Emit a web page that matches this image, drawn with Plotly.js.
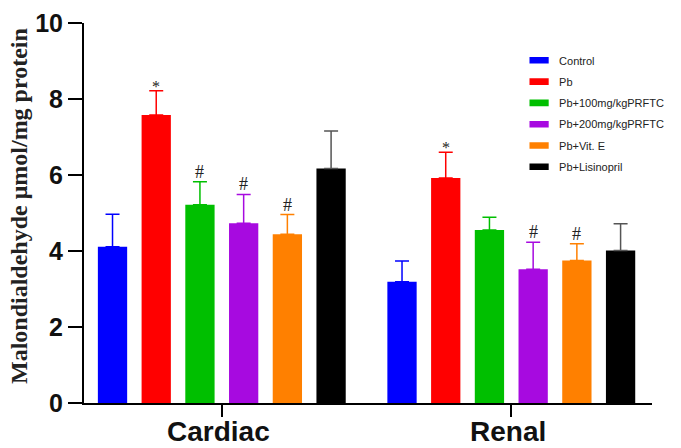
<!DOCTYPE html>
<html>
<head>
<meta charset="utf-8">
<script src="https://cdn.plot.ly/plotly-3.0.1.min.js"></script>
<style>html,body{margin:0;padding:0;background:#fff;}#chart{width:681px;height:448px;}</style>
</head>
<body>
<div id="chart"></div>
<script>
// ---- data ----
const categories = ['Cardiac', 'Renal'];
const groups = ['Control', 'Pb', 'Pb+100mg/kgPRFTC', 'Pb+200mg/kgPRFTC', 'Pb+Vit. E', 'Pb+Lisinopril'];
const cardiacMean = [4.11, 7.58, 5.22, 4.73, 4.44, 6.17];
const cardiacErr  = [0.86, 0.64, 0.60, 0.76, 0.52, 0.99];
const renalMean   = [3.19, 5.92, 4.55, 3.52, 3.75, 4.01];
const renalErr    = [0.55, 0.68, 0.34, 0.71, 0.44, 0.71];
const cardiacMarks = ['', '*', '#', '#', '#', ''];
const renalMarks   = ['', '*', '', '#', '#', ''];
const yTickVals = [0, 2, 4, 6, 8, 10];
const yTitle = 'Malondialdehyde μmol/mg protein';

// ---- styles ----
const colors = ['#0000ff', '#ff0000', '#00bf00', '#a70ae0', '#ff8000', '#000000'];
const errColors = ['#0000ff', '#ff0000', '#00bf00', '#a70ae0', '#ff8000', '#555555'];
const bargap = 0.094;
const nGroups = groups.length;
const slot = (1 - bargap) / nGroups;

const traces = groups.map((g, i) => ({
  type: 'bar',
  name: g,
  legendgroup: 'g' + i,
  x: categories,
  y: [cardiacMean[i], renalMean[i]],
  marker: {color: colors[i], line: {width: 0}},
  error_y: {
    type: 'data', symmetric: false,
    array: [cardiacErr[i], renalErr[i]],
    arrayminus: [0, 0],
    color: errColors[i], thickness: 1.5, width: 7
  },
  hoverinfo: 'skip'
}));

const annotations = [];
[cardiacMarks, renalMarks].forEach((marks, c) => {
  const means = c === 0 ? cardiacMean : renalMean;
  const errs = c === 0 ? cardiacErr : renalErr;
  marks.forEach((m, i) => {
    if (!m) return;
    annotations.push({
      x: c + (i - (nGroups - 1) / 2) * slot,
      y: means[i] + errs[i],
      xref: 'x', yref: 'y',
      text: m, showarrow: false,
      yanchor: 'bottom',
      yshift: m === '*' ? -6 : -2,
      font: {family: 'Liberation Serif, Times New Roman, serif', size: m === '*' ? 16 : 18, color: '#222'}
    });
  });
});

// category labels under the x axis
categories.forEach((c, k) => {
  annotations.push({
    x: k, y: 0, xref: 'x', yref: 'paper',
    text: c, showarrow: false,
    xanchor: 'center', yanchor: 'top', yshift: -11, xshift: -3,
    font: {family: 'Liberation Sans, Arial, sans-serif', size: 28, weight: 'bold', color: '#111'}
  });
});

// y-axis title
annotations.push({
  x: 0, y: 0.5, xref: 'paper', yref: 'paper',
  text: yTitle, showarrow: false, textangle: -90,
  xanchor: 'center', yanchor: 'middle', xshift: -65, yshift: 7,
  font: {family: 'Liberation Serif, Times New Roman, serif', size: 24, weight: 'bold', color: '#222'}
});

const layout = {
  width: 681, height: 448,
  margin: {l: 84, r: 25, t: 23, b: 45, pad: 0},
  paper_bgcolor: '#fff', plot_bgcolor: '#fff',
  barmode: 'group', bargap: bargap, bargroupgap: 0.33,
  showlegend: true,
  legend: {
    x: 0.766, y: 0.94, xanchor: 'left', yanchor: 'top',
    bgcolor: 'rgba(0,0,0,0)', tracegroupgap: 2.3, itemwidth: 30,
    font: {family: 'Liberation Sans, Arial, sans-serif', size: 11, color: '#222'}
  },
  xaxis: {
    type: 'category', range: [-0.476, 1.486],
    showline: true, linecolor: '#000', linewidth: 2,
    ticks: 'outside', ticklen: 12, tickwidth: 2, tickcolor: '#000',
    showgrid: false, zeroline: false, showticklabels: false
  },
  yaxis: {
    range: [0, 10], tickvals: yTickVals, ticktext: yTickVals.map(String),
    showline: true, linecolor: '#000', linewidth: 2,
    ticks: 'outside', ticklen: 14, tickwidth: 2, tickcolor: '#000',
    showgrid: false, zeroline: false,
    tickfont: {family: 'Liberation Sans, Arial, sans-serif', size: 25, weight: 'bold', color: '#111'}
  },
  annotations: annotations
};

Plotly.newPlot('chart', traces, layout, {displayModeBar: false, staticPlot: true}).then(gd => {
  // reference legend swatches are wide flat rectangles
  gd.querySelectorAll('.legend .legendpoints path').forEach(p => {
    const t = p.getAttribute('transform') || '';
    p.setAttribute('transform', t + ' scale(1.6,0.55)');
  });
});
</script>
</body>
</html>
